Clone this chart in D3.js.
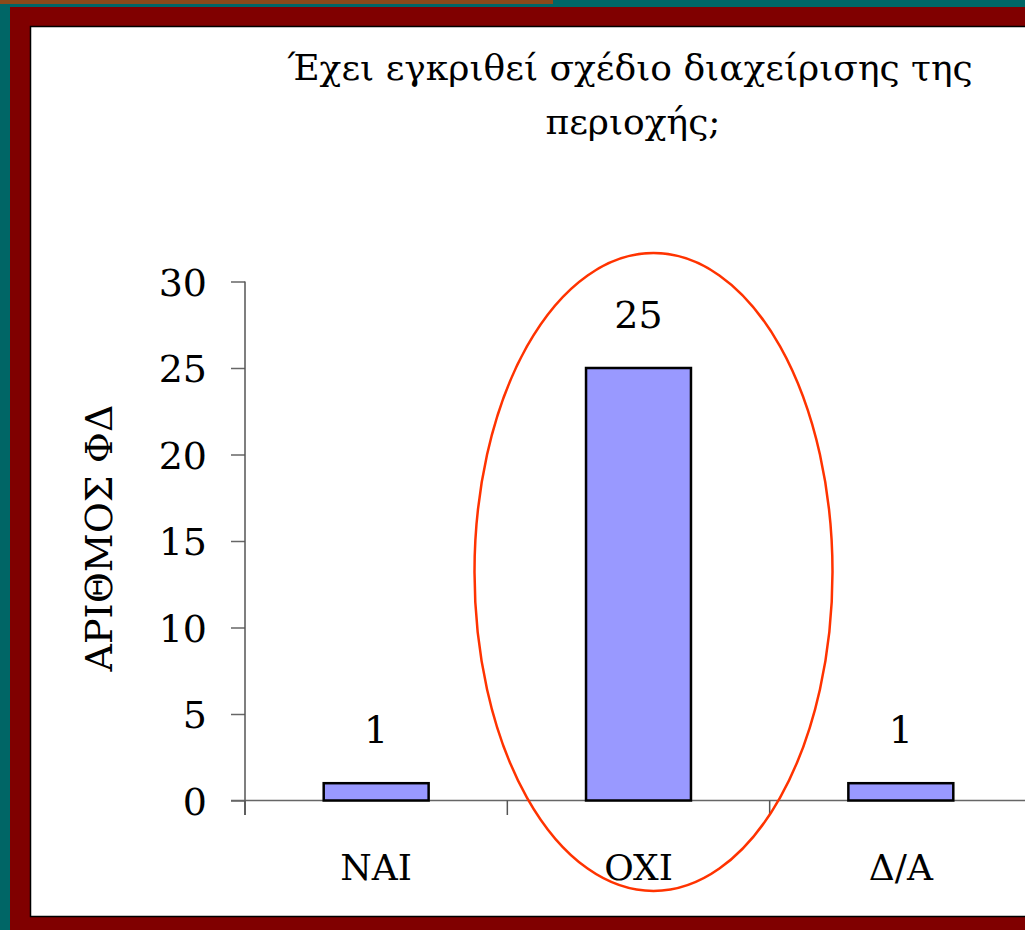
<!DOCTYPE html>
<html>
<head>
<meta charset="utf-8">
<script src="https://cdn.jsdelivr.net/npm/d3@7"></script>
<style>
  body { margin: 0; background: #006666; }
  text { font-family: "DejaVu Serif", serif; fill: #000; }
</style>
</head>
<body>
<svg class="chart"></svg>
<script>
var categories = ["NAI", "OXI", "Δ/A"];
var counts = [1, 25, 1];
var yTicks = [0, 5, 10, 15, 20, 25, 30];
var titleLines = ["Έχει εγκριθεί σχέδιο διαχείρισης της", "περιοχής;"];
var yTitle = "ΑΡΙΘΜΟΣ ΦΔ";

var width = 1025, height = 930;
var svg = d3.select(".chart").attr("width", width).attr("height", height);

// slide frame
svg.append("rect").attr("x", 0).attr("y", 0).attr("width", width).attr("height", height).attr("fill", "#006666");
svg.append("rect").attr("x", 0).attr("y", 0).attr("width", 553).attr("height", 4).attr("fill", "#8a4a1a");
svg.append("rect").attr("x", 10).attr("y", 7).attr("width", width - 10).attr("height", height - 7).attr("fill", "#800000");
svg.append("rect").attr("x", 30.5).attr("y", 26.5).attr("width", width).attr("height", 890)
   .attr("fill", "#fff").attr("stroke", "#000").attr("stroke-width", 1.5);

// title
svg.selectAll(".title").data(titleLines).enter().append("text")
   .attr("class", "title")
   .attr("x", function(d, i) { return i == 0 ? 630 : 633; })
   .attr("y", function(d, i) { return 80 + i * 54; })
   .attr("text-anchor", "middle")
   .style("font-size", "36px")
   .text(function(d) { return d; });

var x = d3.scaleBand().domain(categories).range([245, 1032]).padding(0);
var y = d3.scaleLinear().domain([0, 30]).range([800.5, 281.5]);

var chart = svg.append("g");

// y axis
var yAxis = chart.append("g").attr("transform", "translate(245,0)")
   .call(d3.axisLeft(y).tickValues(yTicks).tickSize(14).tickPadding(24).tickSizeOuter(0));
yAxis.select(".domain").remove();
yAxis.selectAll("line").attr("stroke", "#666").attr("stroke-width", 1.5);
yAxis.selectAll("text").style("font-size", "38px").style("font-family", "DejaVu Serif").attr("dy", "0.36em");
chart.append("line").attr("x1", 245).attr("x2", 245).attr("y1", y(30)).attr("y2", 815)
   .attr("stroke", "#555").attr("stroke-width", 1.5);

// x axis
chart.append("line").attr("x1", 231).attr("x2", width).attr("y1", y(0)).attr("y2", y(0))
   .attr("stroke", "#666").attr("stroke-width", 1.5);
chart.selectAll(".xtick").data(categories).enter().append("line")
   .attr("class", "xtick")
   .attr("x1", function(d) { return x(d); }).attr("x2", function(d) { return x(d); })
   .attr("y1", y(0)).attr("y2", 815)
   .attr("stroke", "#555").attr("stroke-width", 1.5);
chart.selectAll(".xlab").data(categories).enter().append("text")
   .attr("class", "xlab")
   .attr("x", function(d) { return x(d) + x.bandwidth() / 2; })
   .attr("y", 880)
   .attr("text-anchor", "middle")
   .style("font-size", "36px")
   .text(function(d) { return d; });

// bars
var bw = x.bandwidth() * 0.4;
chart.selectAll(".bar").data(counts).enter().append("rect")
   .attr("class", "bar")
   .attr("x", function(d, i) { return x(categories[i]) + (x.bandwidth() - bw) / 2; })
   .attr("y", function(d) { return y(d); })
   .attr("width", bw)
   .attr("height", function(d) { return y(0) - y(d); })
   .attr("fill", "#9999ff").attr("stroke", "#000").attr("stroke-width", 2.5);

chart.selectAll(".val").data(counts).enter().append("text")
   .attr("class", "val")
   .attr("x", function(d, i) { return x(categories[i]) + x.bandwidth() / 2; })
   .attr("y", function(d) { return y(d) - 40; })
   .attr("text-anchor", "middle")
   .style("font-size", "38px")
   .text(function(d) { return d; });

// y axis title
svg.append("text")
   .attr("transform", "translate(112,538) rotate(-90)")
   .attr("text-anchor", "middle")
   .style("font-size", "38px")
   .text(yTitle);

// highlight ellipse round OXI
chart.append("ellipse")
   .attr("cx", x("OXI") + x.bandwidth() / 2 + 15).attr("cy", 572)
   .attr("rx", 179).attr("ry", 319)
   .attr("fill", "none").attr("stroke", "#ff3300").attr("stroke-width", 2.5);
</script>
</body>
</html>
